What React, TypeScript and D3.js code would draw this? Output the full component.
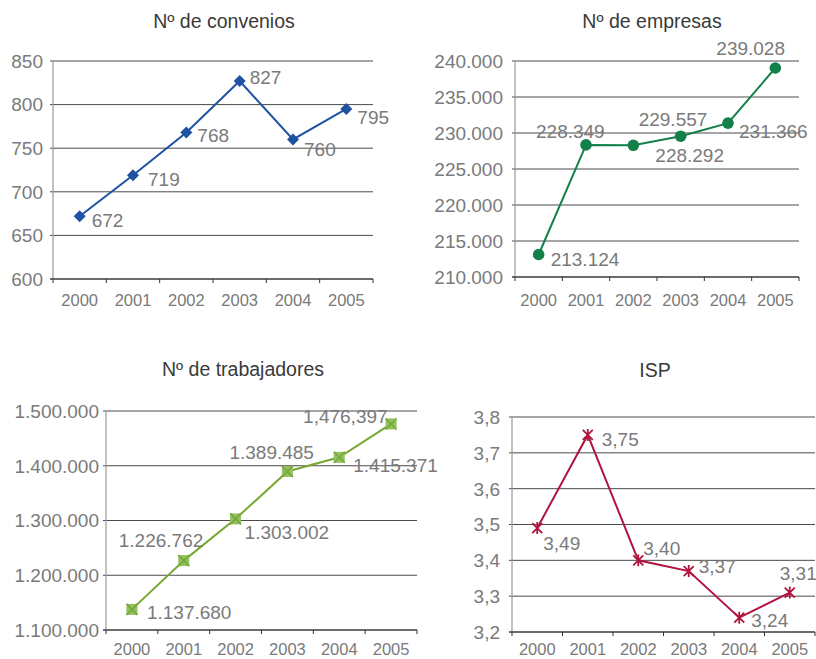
import React from 'react';
import * as d3 from 'd3';

const years = ['2000', '2001', '2002', '2003', '2004', '2005'];

const convenios = [672, 719, 768, 827, 760, 795];
const conveniosLabels = ['672', '719', '768', '827', '760', '795'];
const conveniosTicks = [600, 650, 700, 750, 800, 850];

const empresas = [213124, 228349, 228292, 229557, 231366, 239028];
const empresasLabels = ['213.124', '228.349', '228.292', '229.557', '231.366', '239.028'];
const empresasTicks = [210000, 215000, 220000, 225000, 230000, 235000, 240000];

const trabajadores = [1137680, 1226762, 1303002, 1389485, 1415371, 1476397];
const trabajadoresLabels = ['1.137.680', '1.226.762', '1.303.002', '1.389.485', '1.415.371', '1,476,397'];
const trabajadoresTicks = [1100000, 1200000, 1300000, 1400000, 1500000];

const isp = [3.49, 3.75, 3.4, 3.37, 3.24, 3.31];
const ispLabels = ['3,49', '3,75', '3,40', '3,37', '3,24', '3,31'];
const ispTicks = [3.2, 3.3, 3.4, 3.5, 3.6, 3.7, 3.8];

const FONT = "'Liberation Sans', Arial, sans-serif";
const TEXT_GRAY = '#7a7a7a';

const dotFormat = (n: number) => d3.format(',')(n).replace(/,/g, '.');
const commaDecimal = (n: number) => d3.format('.1f')(n).replace('.', ',');

type Marker = 'diamond' | 'circle' | 'squareX' | 'asterisk';

interface PanelProps {
  title: string;
  values: number[];
  labels: string[];
  ticks: number[];
  tickFormat: (n: number) => string;
  color: string;
  markerColor: string;
  marker: Marker;
  box: { left: number; right: number; top: number; bottom: number };
  titleX: number;
  titleY: number;
  yearY: number;
  tickGap: number;
  offsets: [number, number][];
}

const MarkerShape: React.FC<{ type: Marker; x: number; y: number; color: string; fill: string }> = ({ type, x, y, color, fill }) => {
  if (type === 'diamond') {
    const r = 6;
    return <path d={`M${x},${y - r}L${x + r},${y}L${x},${y + r}L${x - r},${y}Z`} fill={color} />;
  }
  if (type === 'circle') {
    return <circle cx={x} cy={y} r={5.8} fill={color} />;
  }
  if (type === 'squareX') {
    const h = 5.5;
    return (
      <g>
        <rect x={x - h} y={y - h} width={h * 2} height={h * 2} fill={fill} />
        <path d={`M${x - h},${y - h}L${x + h},${y + h}M${x + h},${y - h}L${x - h},${y + h}`} stroke={color} strokeWidth={1.5} />
      </g>
    );
  }
  const h = 5;
  return (
    <path
      d={`M${x - h},${y - h}L${x + h},${y + h}M${x + h},${y - h}L${x - h},${y + h}M${x},${y - h - 1}L${x},${y + h + 1}`}
      stroke={color}
      strokeWidth={1.8}
      fill="none"
    />
  );
};

const Panel: React.FC<PanelProps> = (p) => {
  const { left, right, top, bottom } = p.box;
  const x = d3.scaleBand<string>().domain(years).range([left, right]);
  const y = d3.scaleLinear()
    .domain([p.ticks[0], p.ticks[p.ticks.length - 1]])
    .range([bottom, top]);
  const cx = (i: number) => (x(years[i]) ?? 0) + x.bandwidth() / 2;

  const line = d3.line<number>()
    .x((_, i) => cx(i))
    .y((d) => y(d));

  const boundaries = years.map((yr) => x(yr) ?? 0).concat([right]);

  return (
    <g fontFamily={FONT}>
      <text x={p.titleX} y={p.titleY} textAnchor="middle" fontSize={19.5} fill="#3a3a3a">
        {p.title}
      </text>

      {p.ticks.map((t) => (
        <g key={t}>
          <line x1={left - 3} x2={right} y1={y(t)} y2={y(t)} stroke="#4a4a4a" strokeWidth={1} />
          <text
            x={left - p.tickGap}
            y={y(t)}
            dy="0.36em"
            textAnchor="end"
            fontSize={19}
            fill={TEXT_GRAY}
          >
            {p.tickFormat(t)}
          </text>
        </g>
      ))}

      <line x1={left} x2={left} y1={top} y2={bottom} stroke="#999" strokeWidth={1.2} />
      <line x1={left - 3} x2={right} y1={bottom} y2={bottom} stroke="#333" strokeWidth={1.2} />
      {boundaries.map((b, i) => (
        <line key={i} x1={b} x2={b} y1={bottom} y2={bottom + 4} stroke="#333" strokeWidth={1} />
      ))}

      {years.map((yr, i) => (
        <text key={yr} x={cx(i)} y={p.yearY} textAnchor="middle" fontSize={16.5} fill={TEXT_GRAY}>
          {yr}
        </text>
      ))}

      <path d={line(p.values) ?? ''} fill="none" stroke={p.color} strokeWidth={2} />

      {p.values.map((v, i) => (
        <MarkerShape key={i} type={p.marker} x={cx(i)} y={y(v)} color={p.color} fill={p.markerColor} />
      ))}

      {p.values.map((v, i) => (
        <text
          key={i}
          x={cx(i) + p.offsets[i][0]}
          y={y(v) + p.offsets[i][1]}
          fontSize={19}
          fill={TEXT_GRAY}
        >
          {p.labels[i]}
        </text>
      ))}
    </g>
  );
};

export default function App() {
  return (
    <div style={{ position: 'absolute', left: 0, top: 0 }}>
      <svg width={816} height={659} style={{ display: 'block', background: '#fff' }}>
        <Panel
          title="Nº de convenios"
          values={convenios}
          labels={conveniosLabels}
          ticks={conveniosTicks}
          tickFormat={(n) => String(n)}
          color="#1f52a3"
          markerColor="#1f52a3"
          marker="diamond"
          box={{ left: 53, right: 373, top: 61, bottom: 279 }}
          titleX={224}
          titleY={28}
          yearY={306}
          tickGap={10}
          offsets={[[12, 11], [15, 11], [11, 9], [10, 3], [11, 17], [11, 15]]}
        />
        <Panel
          title="Nº de empresas"
          values={empresas}
          labels={empresasLabels}
          ticks={empresasTicks}
          tickFormat={dotFormat}
          color="#13804a"
          markerColor="#13804a"
          marker="circle"
          box={{ left: 515, right: 799, top: 61, bottom: 277 }}
          titleX={652}
          titleY={28}
          yearY={306}
          tickGap={12}
          offsets={[[12, 11], [-50, -7], [22, 17], [-42, -10], [11, 15], [-59, -13]]}
        />
        <Panel
          title="Nº de trabajadores"
          values={trabajadores}
          labels={trabajadoresLabels}
          ticks={trabajadoresTicks}
          tickFormat={dotFormat}
          color="#76a832"
          markerColor="#93c062"
          marker="squareX"
          box={{ left: 106, right: 417, top: 411, bottom: 630 }}
          titleX={243}
          titleY={376}
          yearY={655}
          tickGap={7}
          offsets={[[15, 10], [-65, -14], [9, 20], [-58, -13], [14, 15], [-88, -1]]}
        />
        <Panel
          title="ISP"
          values={isp}
          labels={ispLabels}
          ticks={ispTicks}
          tickFormat={commaDecimal}
          color="#b0143f"
          markerColor="#b0143f"
          marker="asterisk"
          box={{ left: 512, right: 815, top: 417, bottom: 632 }}
          titleX={655}
          titleY={377}
          yearY={655}
          tickGap={12}
          offsets={[[6, 22], [14, 11], [5, -5], [10, 2], [12, 9], [-10, -13]]}
        />
      </svg>
    </div>
  );
}
